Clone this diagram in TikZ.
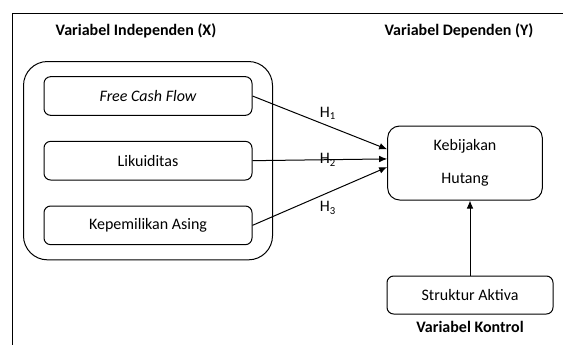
\documentclass[tikz,border=0pt]{standalone}
\usepackage{fontspec}
\setmainfont{Carlito}
\usepackage{tikz}
\usetikzlibrary{shapes, arrows.meta, positioning, fit}

\begin{document}
\begin{tikzpicture}[x=0.75pt, y=-0.75pt, font=\fontsize{12}{14.5}\selectfont, line width=0.75pt,
        varbox/.style={rectangle, draw, rounded corners=5pt, minimum width=156pt, minimum height=29pt},
        vartitle/.style={font=\fontsize{12}{14.5}\selectfont\bfseries},
        hyp/.style={-{Latex[length=6pt, width=5pt]}}]
        \useasboundingbox (0,0) rectangle (563,344);
        \clip (0,0) rectangle (563,344);
        \draw (12,13) rectangle (590,370);

        \node (indep) [vartitle] at (136,31) {Variabel Independen (X)};
        \node (dep) [vartitle] at (459,31) {Variabel Dependen (Y)};

        \node (fcf) [varbox] at (148,96) {\itshape Free Cash Flow};
        \node (likuid) [varbox, below=18.75pt of fcf] {Likuiditas};
        \node (asing) [varbox, below=18.75pt of likuid] {Kepemilikan Asing};
        \node (group) [draw, rounded corners=18pt, inner xsep=15pt, inner ysep=11pt, fit=(fcf)(likuid)(asing)] {};

        \node (hutang) [rectangle, draw, rounded corners=9pt, minimum width=116pt, minimum height=55.5pt, align=center] at (465,163) {Kebijakan\\[10pt]Hutang};
        \node (aktiva) [rectangle, draw, rounded corners=5pt, minimum width=124.5pt, minimum height=28.5pt] at (470,295) {Struktur Aktiva};
        \node (kontrol) [vartitle, below=1pt of aktiva] {Variabel Kontrol};

        \draw [hyp] (fcf.east) -- node[pos=0.56, above=1pt] {H\textsubscript{1}} (hutang.170.5);
        \draw [hyp] (likuid.east) -- node[pos=0.56] {H\textsubscript{2}} (hutang.177);
        \draw [hyp] (asing.east) -- node[pos=0.56, below=3pt] {H\textsubscript{3}} (hutang.183.7);
        \draw [hyp] (aktiva.north) -- (aktiva.north |- hutang.south);
    \end{tikzpicture}
\end{document}
